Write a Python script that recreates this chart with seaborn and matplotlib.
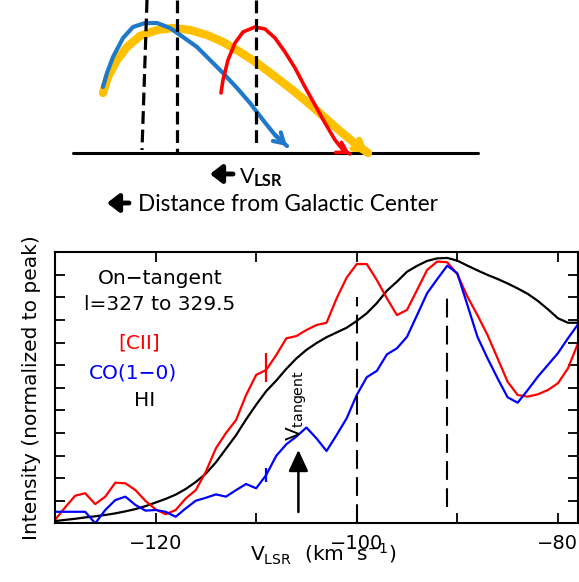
import numpy as np
import pandas as pd
import matplotlib
matplotlib.use("Agg")
import matplotlib.pyplot as plt
import seaborn as sns

# velocity grid (km/s) and normalised spectra
velocity = list(range(-130, -77))
cii = [0.015, 0.07, 0.122, 0.133, 0.085, 0.118, 0.18, 0.177, 0.147, 0.099,
       0.062, 0.04, 0.059, 0.11, 0.147, 0.229, 0.332, 0.40, 0.457, 0.568,
       0.657, 0.679, 0.745, 0.819, 0.829, 0.856, 0.878, 0.888, 0.996, 1.088,
       1.148, 1.148, 1.077, 0.996, 0.922, 0.945, 1.033, 1.122, 1.159, 1.156,
       1.103, 1.004, 0.922, 0.834, 0.731, 0.627, 0.568, 0.561, 0.571, 0.590,
       0.620, 0.686, 0.797]
co = [0.051, 0.051, 0.051, 0.051, 0.0, 0.059, 0.103, 0.118, 0.081, 0.056,
      0.059, 0.051, 0.029, 0.066, 0.100, 0.113, 0.128, 0.118, 0.147, 0.174,
      0.155, 0.214, 0.299, 0.350, 0.384, 0.424, 0.376, 0.320, 0.391, 0.465,
      0.568, 0.647, 0.675, 0.748, 0.775, 0.826, 0.922, 1.019, 1.081, 1.141,
      1.107, 0.967, 0.826, 0.731, 0.642, 0.558, 0.534, 0.590, 0.649, 0.701,
      0.753, 0.819, 0.881]
hi = [0.010, 0.015, 0.020, 0.026, 0.031, 0.037, 0.044, 0.053, 0.063, 0.076,
      0.092, 0.108, 0.127, 0.152, 0.183, 0.220, 0.270, 0.330, 0.390, 0.460,
      0.525, 0.585, 0.632, 0.684, 0.730, 0.768, 0.798, 0.824, 0.845, 0.866,
      0.896, 0.930, 0.975, 1.030, 1.070, 1.114, 1.140, 1.162, 1.173, 1.175,
      1.163, 1.141, 1.120, 1.100, 1.082, 1.062, 1.040, 1.016, 0.985, 0.948,
      0.908, 0.888, 0.888]

# error bars at -109 km/s
err_v = [-109, -109]
err_lo = [0.625, 0.182]
err_hi = [0.755, 0.246]
err_col = ["red", "blue"]

# tangent velocities (dashed lines)
tan_v = [-100, -91]
tan_lo = [0.0, 0.072]
tan_hi = [1.0, 1.01]

# schematic curves (top panel, drawing units)
blue_x = [103, 107, 113, 123, 133, 145, 157, 170, 183, 197, 210, 223, 237, 250, 263, 275, 287]
blue_y = [87, 73, 57, 38, 27, 23, 23, 28, 37, 47, 60, 73, 88, 103, 120, 135, 146]
gold_x = [103, 108, 117, 127, 140, 157, 173, 190, 207, 223, 240, 257, 273, 290, 307, 323, 340, 357, 368]
gold_y = [93, 77, 60, 47, 36, 30, 28, 30, 35, 42, 52, 63, 75, 88, 102, 116, 131, 145, 153]
red_x = [221, 223, 228, 235, 243, 255, 265, 275, 285, 295, 305, 315, 325, 335, 343, 350]
red_y = [93, 80, 60, 43, 32, 27, 29, 38, 52, 68, 87, 105, 123, 140, 150, 154]
dash_top = [147, 177, 256]
dash_bot = [142, 177, 256]
dash_end = [150, 153, 147]

sns.set_style("ticks")
plt.rcParams["font.family"] = ["DejaVu Sans"]
plt.rcParams.update({"text.color": "black", "axes.labelcolor": "black",
                     "xtick.color": "black", "ytick.color": "black",
                     "axes.edgecolor": "black"})

fig = plt.figure(figsize=(5.79, 5.82), dpi=100)

# ---------- top schematic ----------
ax2 = fig.add_axes([0, 1 - 215 / 582, 1, 215 / 582])
ax2.set_xlim(0, 579)
ax2.set_ylim(215, 0)
ax2.axis("off")
ax2.plot([73, 478], [153, 153], color="black", lw=2.2)
ax2.plot(gold_x, gold_y, color="#FFC000", lw=6, solid_capstyle="round")
ax2.plot(blue_x, blue_y, color="#1F78C8", lw=3)
ax2.plot(red_x, red_y, color="#FF0000", lw=2.6)
for xs, ys, c, w in [(blue_x, blue_y, "#1F78C8", 3), (red_x, red_y, "#FF0000", 2.6),
                     (gold_x, gold_y, "#FFC000", 4)]:
    ax2.annotate("", xy=(xs[-1], ys[-1]), xytext=(xs[-2], ys[-2]),
                 arrowprops=dict(arrowstyle="->,head_length=0.5,head_width=0.3",
                                 color=c, lw=w, shrinkA=0, shrinkB=0, mutation_scale=14))
for xt, xb, yb in zip(dash_top, dash_bot, dash_end):
    ax2.plot([xt, xb], [0, yb], color="black", lw=2.3, dashes=(4, 1.8))

for y0, x0, x1 in [(174, 233, 210), (203, 129, 107)]:
    ax2.annotate("", xy=(x1, y0), xytext=(x0, y0),
                 arrowprops=dict(arrowstyle="-|>,head_length=0.35,head_width=0.27",
                                 color="black", lw=3.5, shrinkA=0, shrinkB=0, mutation_scale=20))
ax2.text(240, 183, "V", family="Lato", fontsize=15.5, ha="left", va="baseline")
ax2.text(254, 186, "LSR", family="Lato", fontsize=12, fontweight="bold", ha="left", va="baseline")
ax2.text(138, 211, "Distance from Galactic Center", family="Lato", fontsize=16.3,
         ha="left", va="baseline")

# ---------- spectra ----------
ax = fig.add_axes([55 / 579, 1 - 523.3 / 582, 523 / 579, 271 / 582])
df = pd.DataFrame({
    "v": velocity * 3,
    "I": hi + cii + co,
    "line": ["HI"] * len(velocity) + ["CII"] * len(velocity) + ["CO"] * len(velocity),
})
sns.lineplot(data=df, x="v", y="I", hue="line", estimator=None, sort=False,
             palette={"HI": "black", "CII": "#FF0000", "CO": "#0000FF"},
             lw=1.6, legend=False, ax=ax)

ax.vlines(err_v, err_lo, err_hi, colors=err_col, lw=1.6)
for v, lo, hi_ in zip(tan_v, tan_lo, tan_hi):
    ax.plot([v, v], [lo, hi_], color="black", lw=1.5, dashes=(9, 4))

ax.annotate("", xy=(-105.8, 0.325), xytext=(-105.8, 0.05),
            arrowprops=dict(arrowstyle="-|>,head_length=0.65,head_width=0.3",
                            color="black", lw=1.8, shrinkA=0, shrinkB=0, mutation_scale=20))
ax.text(-106.0, 0.365, r"$\mathregular{V_{tangent}}$", rotation=90, fontsize=14.5,
        ha="center", va="bottom")

ax.text(-119.5, 1.082, "On\u2212tangent", fontsize=14.5, ha="center", va="center")
ax.text(-119.6, 0.971, "l=327 to 329.5", fontsize=14.5, ha="center", va="center")
ax.text(-121.6, 0.80, "[CII]", fontsize=14.5, color="#FF0000", ha="center", va="center")
ax.text(-122.2, 0.666, "CO(1\u22120)", fontsize=14.5, color="#0000FF", ha="center", va="center")
ax.text(-121.1, 0.542, "HI", fontsize=14.5, ha="center", va="center")

ax.set_xlim(-130, -78)
ax.set_ylim(0, 1.2)
ax.set_xticks([-120, -100, -80])
ax.set_xticks([-110, -90], minor=True)
ax.set_yticks([0.1 * i for i in range(13)])
ax.set_yticklabels([])
ax.tick_params(which="both", direction="in", top=True, right=True,
               length=7, width=1.3, labelsize=14, pad=8)
for s in ax.spines.values():
    s.set_linewidth(1.5)

ax.set_xlabel(r"$\mathregular{V_{LSR}\ \ (km\ \ s^{-1})}$", fontsize=14.5)
ax.xaxis.set_label_coords(0.512, -0.07)
ax.set_ylabel("Intensity (normalized to peak)", fontsize=14.5)
ax.yaxis.set_label_coords(-0.027, 0.5)

plt.savefig("out.png", dpi=100)
